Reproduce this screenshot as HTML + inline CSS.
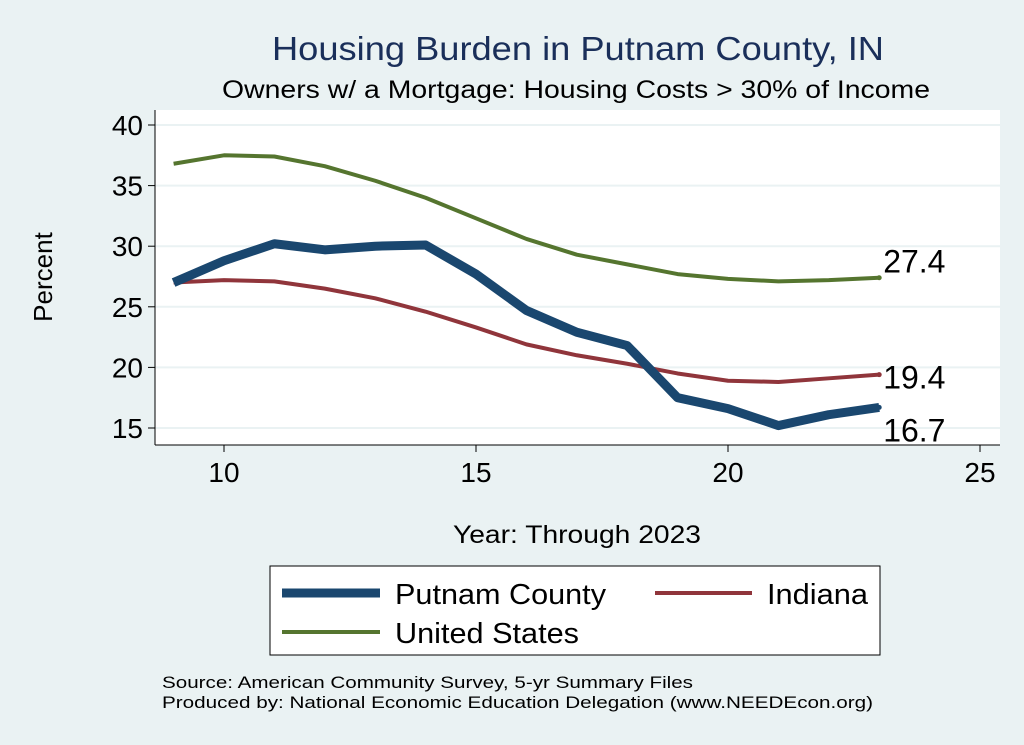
<!DOCTYPE html>
<html><head><meta charset="utf-8"><style>
body{margin:0;background:#eaf2f3;}
svg{display:block;font-family:"Liberation Sans",Arial,sans-serif;}
</style></head><body>
<svg width="1024" height="745">
<rect width="1024" height="745" fill="#eaf2f3"/>
<text x="272" y="60" font-size="33" textLength="612" lengthAdjust="spacingAndGlyphs" fill="#1a2f5a">Housing Burden in Putnam County, IN</text>
<text x="222" y="98" font-size="25" textLength="708" lengthAdjust="spacingAndGlyphs" fill="#000">Owners w/ a Mortgage: Housing Costs &gt; 30% of Income</text>
<rect x="155" y="110" width="845" height="335" fill="#fff"/>
<g id="grid"></g>
<g id="axes"></g>
<g id="series"></g>
<text x="52" y="277" text-anchor="middle" font-size="26" transform="rotate(-90 52 277)">Percent</text>
<text x="453" y="543" font-size="25" textLength="248" lengthAdjust="spacingAndGlyphs">Year: Through 2023</text>
<g>
<rect x="270" y="566" width="610" height="89" fill="#fff" stroke="#000" stroke-width="1"/>
<g><line x1="282" y1="593" x2="380" y2="593" stroke="#1a476f" stroke-width="9"/><text x="395" y="604" font-size="29" textLength="211" lengthAdjust="spacingAndGlyphs">Putnam County</text></g>
<g><line x1="655" y1="593" x2="752" y2="593" stroke="#90353b" stroke-width="4"/><text x="767" y="604" font-size="29" textLength="101" lengthAdjust="spacingAndGlyphs">Indiana</text></g>
<g><line x1="282" y1="632" x2="380" y2="632" stroke="#55752f" stroke-width="4"/><text x="395" y="643" font-size="29" textLength="184" lengthAdjust="spacingAndGlyphs">United States</text></g>
</g>
<text x="162" y="688" font-size="17" textLength="531" lengthAdjust="spacingAndGlyphs">Source: American Community Survey, 5-yr Summary Files</text>
<text x="162" y="708" font-size="17" textLength="711" lengthAdjust="spacingAndGlyphs">Produced by: National Economic Education Delegation (www.NEEDEcon.org)</text>
</svg>
<script>
const years=[9,10,11,12,13,14,15,16,17,18,19,20,21,22,23];
const putnam=[27.0,28.8,30.2,29.7,30.0,30.1,27.7,24.7,22.9,21.8,17.5,16.6,15.2,16.1,16.7];
const indiana=[27.0,27.2,27.1,26.5,25.7,24.6,23.3,21.9,21.0,20.3,19.5,18.9,18.8,19.1,19.4];
const us=[36.8,37.5,37.4,36.6,35.4,34.0,32.3,30.6,29.3,28.5,27.7,27.3,27.1,27.2,27.4];
const yTicks=[15,20,25,30,35,40];
const xTicks=[10,15,20,25];
const NS='http://www.w3.org/2000/svg';
const xs=v=>224+(v-10)*50.4;
const ys=v=>428-(v-15)*12.12;
function mk(t,a,p){const e=document.createElementNS(NS,t);for(const k in a)e.setAttribute(k,a[k]);p.appendChild(e);return e;}
const grid=document.getElementById('grid'),axes=document.getElementById('axes'),ser=document.getElementById('series');
mk('line',{x1:155,y1:110,x2:155,y2:445,stroke:'#000'},axes);
mk('line',{x1:155,y1:445,x2:1000,y2:445,stroke:'#000'},axes);
yTicks.forEach(v=>{
 const g=mk('line',{x1:155,x2:1000,y1:ys(v),y2:ys(v),stroke:'#eaf2f3','stroke-width':2},grid);
 
 
 mk('line',{x1:148,x2:155,y1:ys(v),y2:ys(v),stroke:'#000'},axes);
 const t=mk('text',{x:143,y:ys(v)+10,'text-anchor':'end','font-size':28},axes);t.textContent=v;
 
 
});
xTicks.forEach(v=>{
 mk('line',{x1:xs(v),x2:xs(v),y1:445,y2:452,stroke:'#000'},axes);
 const t=mk('text',{x:xs(v),y:482,'text-anchor':'middle','font-size':28},axes);t.textContent=v;
 
 
});
function line(data,color,w,name){
 const p=mk('polyline',{points:data.map((v,i)=>xs(years[i])+','+ys(v)).join(' '),fill:'none',stroke:color,'stroke-width':w,'stroke-linejoin':'round'},ser);
 
 
 const n=data.length-1;
 mk('circle',{cx:xs(years[n]),cy:ys(data[n]),r:2.5,fill:color},ser);
}
line(us,'#55752f',4,'us-line');
line(indiana,'#90353b',4,'indiana-line');
line(putnam,'#1a476f',9,'putnam-line');
const n=years.length-1;
[[us[n],-5],[indiana[n],14],[putnam[n],34]].forEach(([v,dy])=>{
 const t=mk('text',{x:xs(years[n])+4,y:ys(v)+dy,'font-size':32},ser);t.textContent=v.toFixed(1);
 
 
});
</script>
</body></html>
